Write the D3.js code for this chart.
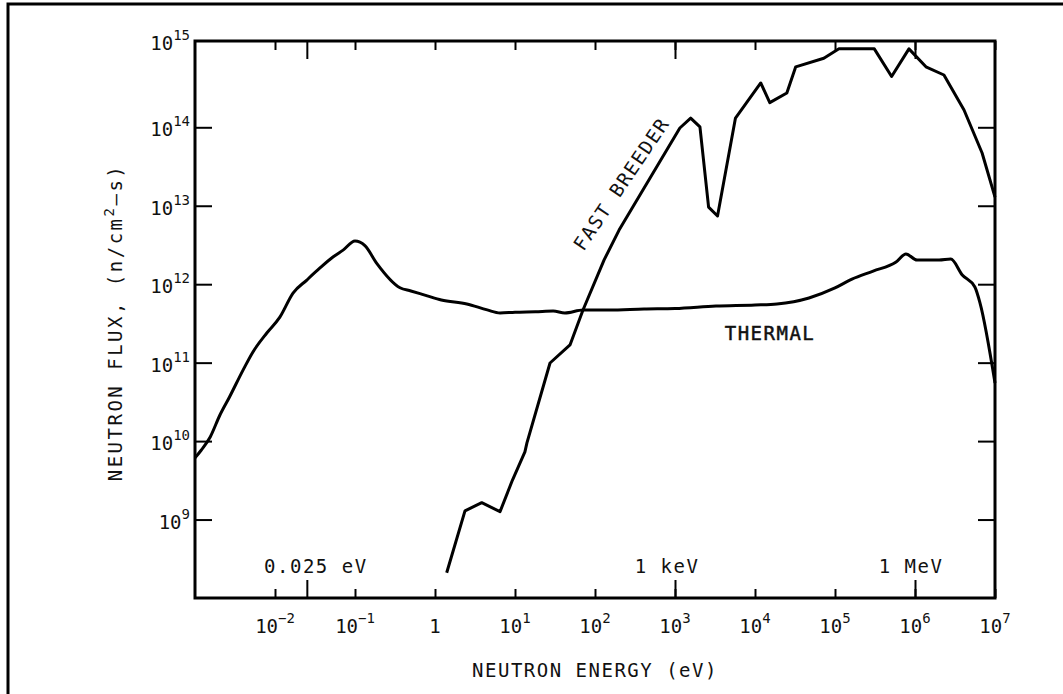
<!DOCTYPE html>
<html>
<head>
<meta charset="utf-8">
<script src="https://cdn.jsdelivr.net/npm/d3@7"></script>
<style>
  body { margin: 0; background: #fff; }
  text { font-family: "DejaVu Sans Mono", "Liberation Mono", monospace; fill: #111; }
</style>
</head>
<body>
<div id="chart"></div>
<script>
// thermal reactor spectrum (eV, n/cm2-s)
const thermalEnergy = [0.001, 0.0012, 0.00155, 0.00205, 0.0027, 0.004, 0.0053, 0.0079, 0.0115, 0.0168,
    0.025, 0.0365, 0.053, 0.071, 0.1, 0.133, 0.188, 0.365, 0.5, 0.8, 1.2, 2.5, 4.5, 6.5, 10, 18, 30, 42,
    71, 150, 410, 1000, 3250, 10000, 18800, 47300, 1e5, 1.63e5, 3e5, 5.8e5, 7.7e5, 1.06e6, 2.0e6,
    2.8e6, 3.9e6, 5.6e6, 6.5e6, 1e7];
const thermalFlux = [6.1e9, 7.7e9, 1.13e10, 2.15e10, 3.65e10, 8.1e10, 1.37e11, 2.39e11, 3.8e11, 7.7e11,
    1.13e12, 1.61e12, 2.22e12, 2.72e12, 3.55e12, 3.1e12, 1.83e12, 9.0e11, 8.2e11, 7.1e11, 6.3e11, 5.6e11,
    4.7e11, 4.3e11, 4.4e11, 4.46e11, 4.55e11, 4.3e11, 4.69e11, 4.69e11, 4.83e11, 4.9e11, 5.27e11,
    5.43e11, 5.6e11, 6.68e11, 8.96e11, 1.16e12, 1.47e12, 1.92e12, 2.43e12, 2.03e12, 2.03e12, 2.09e12,
    1.31e12, 9.2e11, 5.75e11, 5.5e10];

// fast breeder spectrum
const fastEnergy = [1.4, 2.37, 3.84, 6.5, 9.3, 13.3, 14.1, 27.4, 48.7, 70.8, 130, 200, 1150, 1570, 2050,
    2630, 3400, 5700, 11800, 15300, 25000, 32300, 72500, 1.12e5, 3.1e5, 5.1e5, 8.4e5, 1.37e6, 2.3e6,
    4.1e6, 6.9e6, 1e7];
const fastFlux = [2.1e8, 1.29e9, 1.64e9, 1.26e9, 3.19e9, 7.3e9, 9.5e9, 9.9e10, 1.68e11, 4.69e11, 2.04e12,
    4.9e12, 9.8e13, 1.31e14, 1.01e14, 9.6e12, 7.4e12, 1.31e14, 3.67e14, 2.06e14, 2.74e14, 5.9e14, 7.6e14,
    1e15, 1e15, 4.45e14, 1e15, 5.9e14, 4.64e14, 1.66e14, 4.7e13, 1.29e13];

const xTickExponents = [-2, -1, 0, 1, 2, 3, 4, 5, 6, 7];
const yTickExponents = [9, 10, 11, 12, 13, 14, 15];
const markerEnergies = [0.025, 1e3, 1e6];
const markerLabels = ["0.025 eV", "1 keV", "1 MeV"];

const width = 1063;
const height = 694;
const margin = { top: 41, right: 68, bottom: 96, left: 195 };
const plotBottom = height - margin.bottom;
const plotRight = width - margin.right;
const markerNudge = [9, -8, -4]; // labels sit a little off their ticks

const svg = d3.select("#chart")
    .append("svg")
    .attr("width", width)
    .attr("height", height);

// outer frame of the figure (runs off the right and bottom)
svg.append("rect")
    .attr("x", 8)
    .attr("y", 4)
    .attr("width", width)
    .attr("height", height)
    .attr("fill", "none")
    .attr("stroke", "#000")
    .attr("stroke-width", 3);

const xScale = d3.scaleLog()
    .domain([1e-3, 1e7])
    .range([margin.left, plotRight]);

const yScale = d3.scaleLog()
    .domain([1e8, Math.pow(10, 15.1)])
    .range([plotBottom, margin.top]);

const xDecades = xTickExponents.map(e => Math.pow(10, e));
const yDecades = yTickExponents.filter(e => e < 15).map(e => Math.pow(10, e));

function addTicks(axis, transform) {
    const g = svg.append("g")
        .attr("transform", transform)
        .call(axis.tickSizeOuter(0).tickFormat(""));
    g.select(".domain").remove();
    g.selectAll(".tick line").attr("stroke", "#000").attr("stroke-width", 2);
}

// inward ticks on all four sides
addTicks(d3.axisBottom(xScale).tickValues(xDecades).tickSize(-9), `translate(0, ${plotBottom})`);
addTicks(d3.axisBottom(xScale).tickValues(markerEnergies).tickSize(-18), `translate(0, ${plotBottom})`);
addTicks(d3.axisTop(xScale).tickValues(xDecades).tickSize(-9), `translate(0, ${margin.top})`);
addTicks(d3.axisTop(xScale).tickValues(markerEnergies).tickSize(-18), `translate(0, ${margin.top})`);
addTicks(d3.axisLeft(yScale).tickValues(yDecades).tickSize(-17), `translate(${margin.left}, 0)`);
addTicks(d3.axisRight(yScale).tickValues(yDecades).tickSize(-17), `translate(${plotRight}, 0)`);

svg.append("rect")
    .attr("x", margin.left)
    .attr("y", margin.top)
    .attr("width", plotRight - margin.left)
    .attr("height", plotBottom - margin.top)
    .attr("fill", "none")
    .attr("stroke", "#000")
    .attr("stroke-width", 3);

// x tick labels 10^n
svg.append("g")
    .selectAll("text")
    .data(xTickExponents)
    .join("text")
    .attr("x", d => xScale(Math.pow(10, d)))
    .attr("y", plotBottom + 35)
    .attr("text-anchor", "middle")
    .style("font-size", "19px")
    .each(function(d) {
        const t = d3.select(this);
        if (d === 0) { t.text("1"); return; }
        t.append("tspan").text("10");
        t.append("tspan")
            .attr("dy", -10)
            .style("font-size", "14px")
            .text(d < 0 ? "\u2212" + (-d) : d);
    });

// y tick labels 10^n
svg.append("g")
    .selectAll("text")
    .data(yTickExponents)
    .join("text")
    .attr("x", margin.left - 5)
    .attr("y", d => (d === 15 ? margin.top : yScale(Math.pow(10, d))) + 9)
    .attr("text-anchor", "end")
    .style("font-size", "19px")
    .each(function(d) {
        const t = d3.select(this);
        t.append("tspan").text("10");
        t.append("tspan")
            .attr("dy", -10)
            .style("font-size", "14px")
            .text(d);
    });

// energy markers
svg.append("g")
    .selectAll("text")
    .data(markerEnergies)
    .join("text")
    .attr("x", (d, i) => xScale(d) + markerNudge[i])
    .attr("y", plotBottom - 25)
    .attr("text-anchor", "middle")
    .style("font-size", "19px")
    .style("letter-spacing", "1.5px")
    .text((d, i) => markerLabels[i]);

const line = d3.line()
    .x(d => xScale(d[0]))
    .y(d => yScale(d[1]));

svg.append("path")
    .datum(d3.zip(thermalEnergy, thermalFlux))
    .attr("fill", "none")
    .attr("stroke", "#000")
    .attr("stroke-width", 3)
    .attr("stroke-linejoin", "round")
    .attr("d", line.curve(d3.curveMonotoneX));

svg.append("path")
    .datum(d3.zip(fastEnergy, fastFlux))
    .attr("fill", "none")
    .attr("stroke", "#000")
    .attr("stroke-width", 3)
    .attr("stroke-linejoin", "round")
    .attr("d", line.curve(d3.curveLinear));

// curve labels
svg.append("text")
    .attr("transform", `translate(${xScale(250)}, ${yScale(1.7e13)}) rotate(-56)`)
    .attr("text-anchor", "middle")
    .style("font-size", "19px")
    .style("letter-spacing", "1.5px")
    .text("FAST BREEDER");

svg.append("text")
    .attr("x", xScale(1.54e4))
    .attr("y", yScale(1.95e11))
    .attr("text-anchor", "middle")
    .style("font-size", "19px")
    .style("letter-spacing", "1.5px")
    .style("stroke", "#111")
    .style("stroke-width", "0.5px")
    .text("THERMAL");

// axis titles
svg.append("text")
    .attr("x", (margin.left + plotRight) / 2)
    .attr("y", plotBottom + 79)
    .attr("text-anchor", "middle")
    .style("font-size", "19px")
    .style("letter-spacing", "1.5px")
    .text("NEUTRON ENERGY (eV)");

const yTitle = svg.append("text")
    .attr("transform", `translate(122, ${(margin.top + plotBottom) / 2 + 3}) rotate(-90)`)
    .attr("text-anchor", "middle")
    .style("font-size", "19px")
    .style("letter-spacing", "2.5px");
yTitle.append("tspan").text("NEUTRON FLUX, (n/cm");
yTitle.append("tspan").attr("dy", -8).style("font-size", "14px").text("2");
yTitle.append("tspan").attr("dy", 8).text("\u2013s)");
</script>
</body>
</html>
